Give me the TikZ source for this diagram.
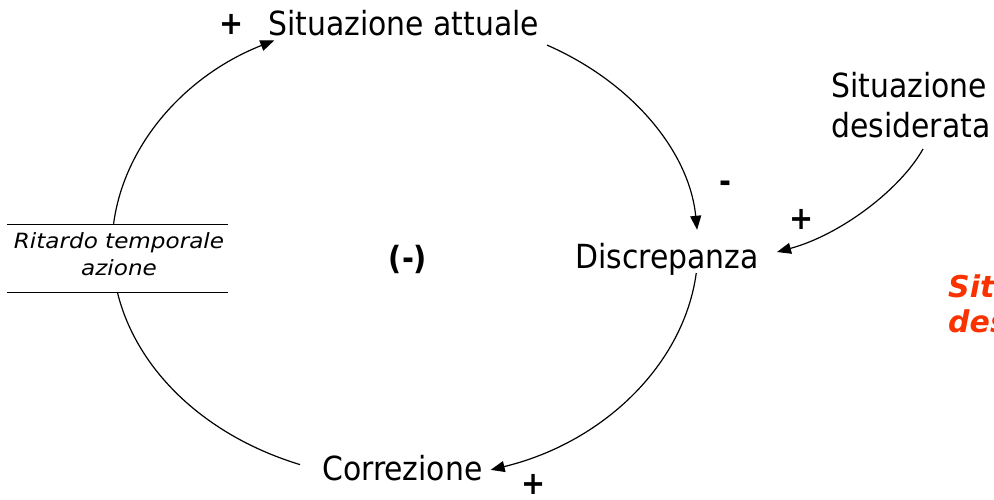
\documentclass[tikz,border=0pt]{standalone}
\usepackage{fontspec}
\setmainfont{DejaVu Sans Condensed}
\newfontfamily\widefont{DejaVu Sans}
\usetikzlibrary{arrows.meta,calc}
\definecolor{redtxt}{RGB}{250,50,0}
\begin{document}
\begin{tikzpicture}[x=1pt,y=1pt,
  conn/.style={line width=1.2pt, draw=black},
  arr/.style={conn, -{Triangle[length=14pt,width=11pt]}},
  lbl/.style={inner sep=0pt, font=\fontsize{33.2}{40}\selectfont},
  sgn/.style={inner sep=0pt, font=\bfseries\fontsize{32}{38}\selectfont},
  ritlbl/.style={inner sep=0pt, align=center, font=\widefont\itshape\fontsize{21}{27}\selectfont},
  redlbl/.style={inner sep=0pt, text=redtxt, font=\widefont\bfseries\itshape\fontsize{30}{36}\selectfont}]
\useasboundingbox (0,0) rectangle (994,-499);

% nodes
\node[lbl, anchor=base west] (sa) at (268,-35) {Situazione attuale};
\node[lbl, anchor=base west] (sd1) at (831,-97) {Situazione};
\node[lbl, anchor=base west] (sd2) at (831,-137) {desiderata};
\node[lbl, anchor=base west] (di) at (575,-268) {Discrepanza};
\node[lbl, anchor=base west] (co) at (322,-480) {Correzione};
\node[ritlbl] (rit) at (119,-254) {\scalebox{1.1}[1]{Ritardo temporale}\\\scalebox{1.1}[1]{azione}};
\node[inner sep=0pt, minimum width=221pt, minimum height=67pt] (ritbox) at (117.5,-258.5) {};

% signs
\node[sgn] (s1) at (232,-24) {+};
\node[sgn] (s2) at (725,-187) {-};
\node[sgn] (s3) at (802,-219) {+};
\node[sgn] (s4) at (408,-259) {(-)};
\node[sgn] (s5) at (534,-484) {+};

% red text (cut by the picture edge, as in the reference)
\begin{scope}
\clip (0,0) rectangle (994,-499);
\node[redlbl, anchor=base west] (r1) at (948,-297) {Situazione};
\node[redlbl, anchor=base west] (r2) at (948,-332) {desiderata};
\end{scope}

% delay marks
\draw[conn] (ritbox.north west) -- (ritbox.north east);
\draw[conn] (ritbox.south west) -- (ritbox.south east);

% loop
\coordinate (o) at (405,-248);
\coordinate (a1) at ($(o)+(61:293pt and 232pt)$);
\coordinate (a2) at ($(o)+(-6.2:293pt and 232pt)$);
\coordinate (a3) at ($(o)+(-111:293pt and 232pt)$);
\coordinate (a4) at ($(o)+(174:293pt and 232pt)$);
\draw[arr] (a1) arc[start angle=61, end angle=4.5, x radius=293pt, y radius=232pt];
\draw[arr] (a2) arc[start angle=-6.2, end angle=-73, x radius=293pt, y radius=232pt];
\draw[conn] (a3) arc[start angle=-111, end angle=-169, x radius=293pt, y radius=232pt];
\draw[arr] (a4) arc[start angle=174, end angle=116.5, x radius=293pt, y radius=232pt];

% desired situation -> discrepancy
\coordinate (sdout) at (923,-149);
\coordinate (ditip) at (777,-252);
\draw[arr] (sdout) .. controls (900,-190) and (840,-235) .. (ditip);
\end{tikzpicture}
\end{document}
